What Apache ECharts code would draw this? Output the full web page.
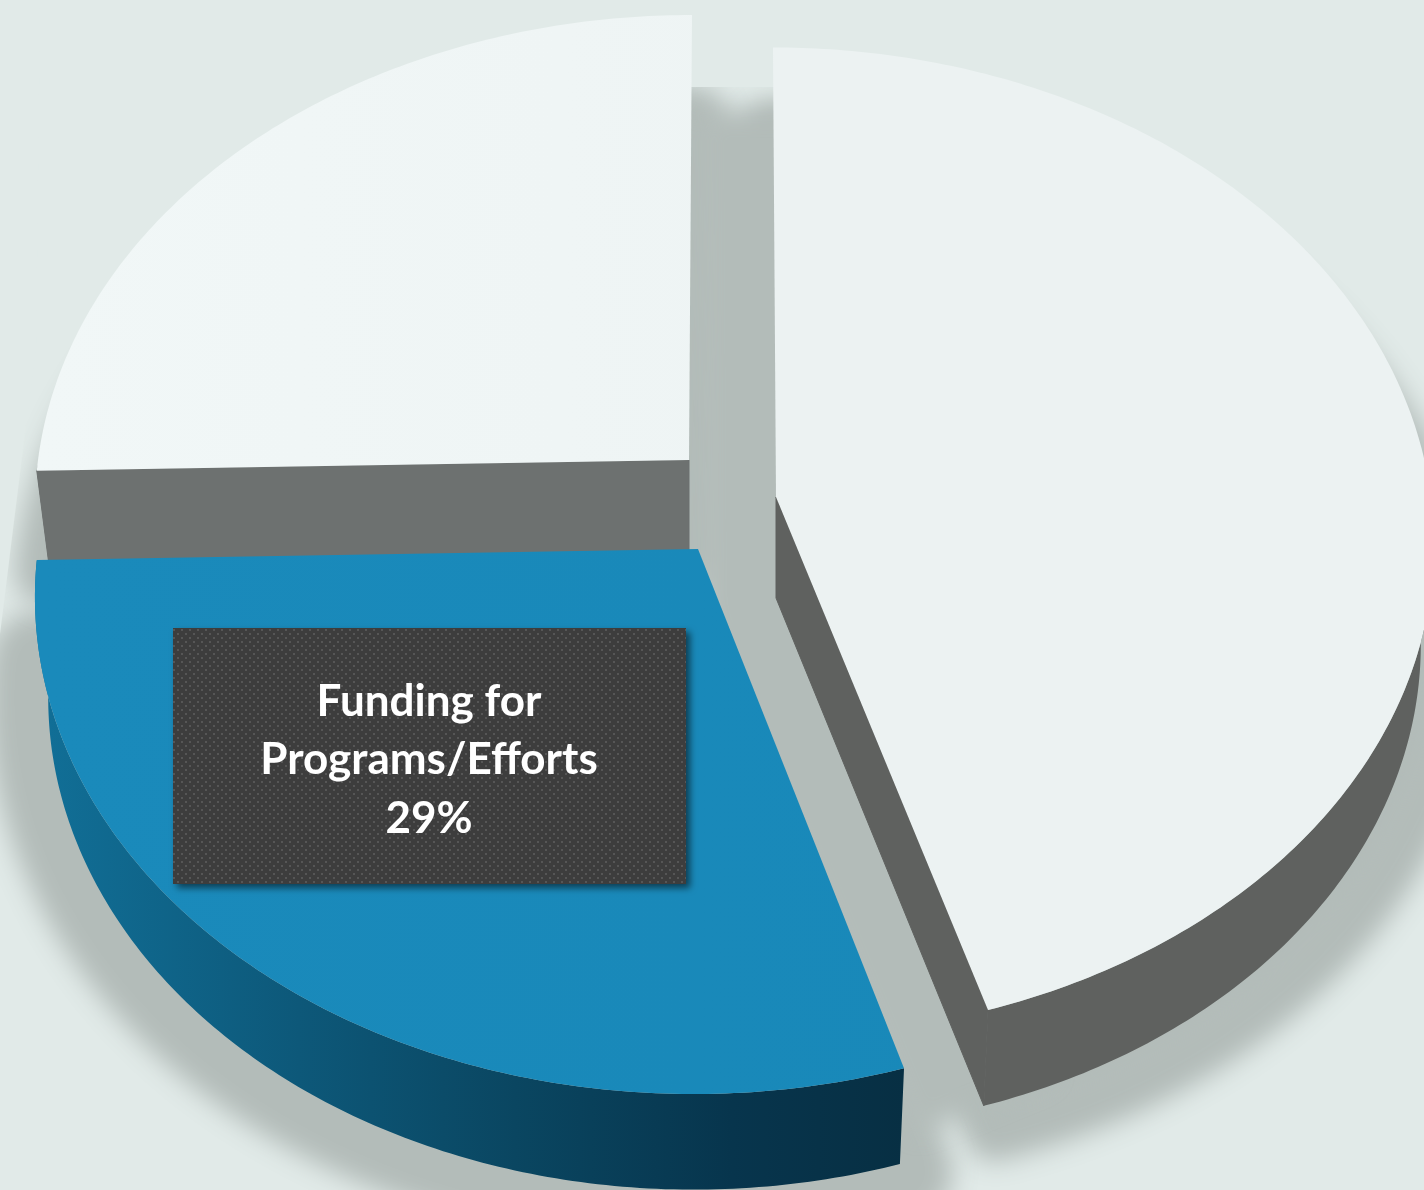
<!DOCTYPE html>
<html>
<head>
<meta charset="utf-8">
<style>html,body{margin:0;padding:0;background:#e1eae8}#c{width:1424px;height:1190px}</style>
<script src="https://cdn.jsdelivr.net/npm/echarts@6/dist/echarts.min.js"></script>
</head>
<body>
<div id="c"></div>
<script>
// ---- data (clockwise from 12 o'clock) ----
var categories = ['Other (right)', 'Funding for Programs/Efforts', 'Other (left)'];
var values = [45.3, 29.35, 25.35];
var labelLines = ['Funding for', 'Programs/Efforts'];

// ---- layout / styling ----
var PERSPECTIVE = 0.09;
var geometry = [
  {ax: 776, ay: 497, R: 655, S: 490, tx: 0.0067, glow: 60, spread: 1.05, cut: 'end', top: '#ecf2f2', topEnd: '#ecf2f2', wall: '#5f615f'},
  {ax: 698, ay: 549, R: 660, S: 496, tx: -0.008, glow: 100, spread: 1.015, cut: null, top: '#1a8abb', topEnd: '#1888b8', wall: null},
  {ax: 689, ay: 460, R: 651, S: 485, tx: -0.0067, glow: 70, spread: 1, cut: 'start', top: '#f1f7f7', topEnd: '#ecf2f2', wall: '#6d7170'}
];
var DEPTH = 101, SCALE_X = 0.98, SCALE_Y = 0.99;
var BG = '#e1eae8', SHADOW = '#b3bcb9';
var OFFSCREEN = 3000, BLUR = 26;

var total = values.reduce(function (a, b) { return a + b; }, 0);
function angleBounds(i) {
  var s = 0;
  for (var k = 0; k < i; k++) s += values[k];
  return [s / total * 2 * Math.PI, (s + values[i]) / total * 2 * Math.PI];
}
function topPoint(g, t) {
  var w = 1 + PERSPECTIVE * Math.cos(t);
  var dx = g.R * Math.sin(t) / w, dy = -g.S * Math.cos(t) / w;
  return [g.ax + dx + g.tx * dy, g.ay + dy];
}
function lowPoint(g, p) {
  return [g.ax + (p[0] - g.ax) * SCALE_X, g.ay + (p[1] - g.ay) * SCALE_Y + DEPTH];
}
function angles(b) {
  var out = [], n = Math.ceil((b[1] - b[0]) / 0.012);
  for (var i = 0; i <= n; i++) out.push(b[0] + (b[1] - b[0]) * i / n);
  return out;
}
function rim(g, b) {
  return angles(b).map(function (t) { return topPoint(g, t); });
}
function poly(points, style) {
  return {type: 'polygon', silent: true, shape: {points: points}, style: style};
}
var dotTile = (function () {
  var c = document.createElement('canvas');
  c.width = c.height = 8;
  var x = c.getContext('2d');
  x.fillStyle = '#3d3d3d'; x.fillRect(0, 0, 8, 8);
  x.fillStyle = '#565656';
  x.fillRect(1, 1, 2, 2); x.fillRect(5, 5, 2, 2);
  return c;
})();

function renderShadow(params, api) {
  var i = params.dataIndex, g = geometry[i], b = angleBounds(i);
  var a = lowPoint(g, [g.ax, g.ay]);
  var low = rim(g, b).map(function (p) {
    var q = lowPoint(g, p);
    return [a[0] + (q[0] - a[0]) * g.spread, a[1] + (q[1] - a[1]) * g.spread];
  });
  low.push(a);
  var el = poly(low, {
    fill: SHADOW, stroke: SHADOW, lineWidth: g.glow, lineJoin: 'round',
    shadowBlur: BLUR, shadowColor: SHADOW, shadowOffsetX: OFFSCREEN
  });
  el.x = -OFFSCREEN;
  return el;
}
// soft shadow tone filling the gaps between the exploded slices, under them
function renderGapFill() {
  var g = geometry[0], b = angleBounds(0), r = rim(g, b);
  var a = lowPoint(g, [g.ax, g.ay]), s = lowPoint(g, r[0]), e = lowPoint(g, r[r.length - 1]);
  var el = {
    type: 'polyline', silent: true, shape: {points: [[s[0], s[1] - 42], a, e]},
    style: {
      fill: 'none', stroke: SHADOW, lineWidth: 150, lineJoin: 'round', lineCap: 'butt',
      shadowBlur: BLUR, shadowColor: SHADOW, shadowOffsetX: OFFSCREEN
    }
  };
  el.x = -OFFSCREEN;
  return el;
}
function renderMask() {
  return {type: 'group', children: [
    {type: 'rect', silent: true, shape: {x: 680, y: 0, width: 100, height: 87}, style: {fill: BG, stroke: 'none'}},
    poly([[0, 0], [40, 0], [36, 345], [0, 634]], {fill: BG, stroke: 'none'})
  ]};
}
function renderSlice(idx, api) {
  var g = geometry[idx], b = angleBounds(idx);
  var outer = rim(g, b), apex = [g.ax, g.ay];
  var lowOuter = outer.map(function (p) { return lowPoint(g, p); });
  var lowApex = lowPoint(g, apex);
  var children = [];
  var wallFill = g.wall || new echarts.graphic.LinearGradient(40, 0, 905, 0, [
    {offset: 0, color: '#116f97'}, {offset: 0.3, color: '#0d5879'},
    {offset: 0.55, color: '#0a4661'}, {offset: 0.8, color: '#07354d'},
    {offset: 1, color: '#072f43'}
  ], true);
  // only the near part of the rim shows a wall
  var ts = angles(b), front = [], frontLow = [];
  ts.forEach(function (t, j) {
    if (Math.cos(t) < 0) { front.push(outer[j]); frontLow.push(lowOuter[j]); }
  });
  if (front.length > 1) {
    children.push(poly(front.concat(frontLow.slice().reverse()), {fill: wallFill, stroke: 'none'}));
  }
  if (g.cut) {
    var k = g.cut === 'end' ? outer.length - 1 : 0;
    children.push(poly([apex, outer[k], lowOuter[k], lowApex], {fill: g.wall, stroke: g.wall, lineWidth: 1}));
  }
  var fill = new echarts.graphic.LinearGradient(g.ax - g.R, 0, g.ax + g.R, 0, [
    {offset: 0, color: g.top}, {offset: 1, color: g.topEnd}
  ], true);
  children.push(poly(outer.concat([apex]), {fill: fill, stroke: 'none'}));
  if (idx === 1) {
    children.push({
      type: 'rect', silent: true,
      shape: {x: 173, y: 628, width: 513, height: 256},
      style: {
        fill: {image: dotTile, repeat: 'repeat'}, stroke: 'none',
        shadowBlur: 7, shadowOffsetX: 4, shadowOffsetY: 4, shadowColor: 'rgba(0,0,0,0.55)'
      }
    });
    children.push({
      type: 'text', silent: true,
      style: {
        x: 429, y: 760,
        text: labelLines.concat([Math.round(api.value(0)) + '%']).join('\n'),
        fill: '#ffffff', font: 'bold 44px Lato, "Open Sans", sans-serif',
        align: 'center', verticalAlign: 'middle', lineHeight: 58.5
      }
    });
  }
  return {type: 'group', children: children};
}
function sliceRenderer(idx) {
  return function (params, api) { return renderSlice(idx, api); };
}

var chart = echarts.init(document.getElementById('c'), null, {renderer: 'canvas', devicePixelRatio: 1});
var sliceData = values.map(function (v, i) { return {name: categories[i], value: [v, i]}; });
chart.setOption({
  backgroundColor: BG,
  animation: false,
  series: [
    {type: 'custom', coordinateSystem: 'none', silent: true, z: 1, renderItem: renderShadow, data: sliceData},
    {type: 'custom', coordinateSystem: 'none', silent: true, z: 1, renderItem: renderGapFill, data: [0]},
    {type: 'custom', coordinateSystem: 'none', silent: true, z: 2, renderItem: renderMask, data: [0]},
    {type: 'custom', coordinateSystem: 'none', silent: true, z: 3, name: categories[2], renderItem: sliceRenderer(2), data: [sliceData[2]]},
    {type: 'custom', coordinateSystem: 'none', silent: true, z: 4, name: categories[0], renderItem: sliceRenderer(0), data: [sliceData[0]]},
    {type: 'custom', coordinateSystem: 'none', silent: true, z: 5, name: categories[1], renderItem: sliceRenderer(1), data: [sliceData[1]]}
  ]
});
</script>
</body>
</html>
